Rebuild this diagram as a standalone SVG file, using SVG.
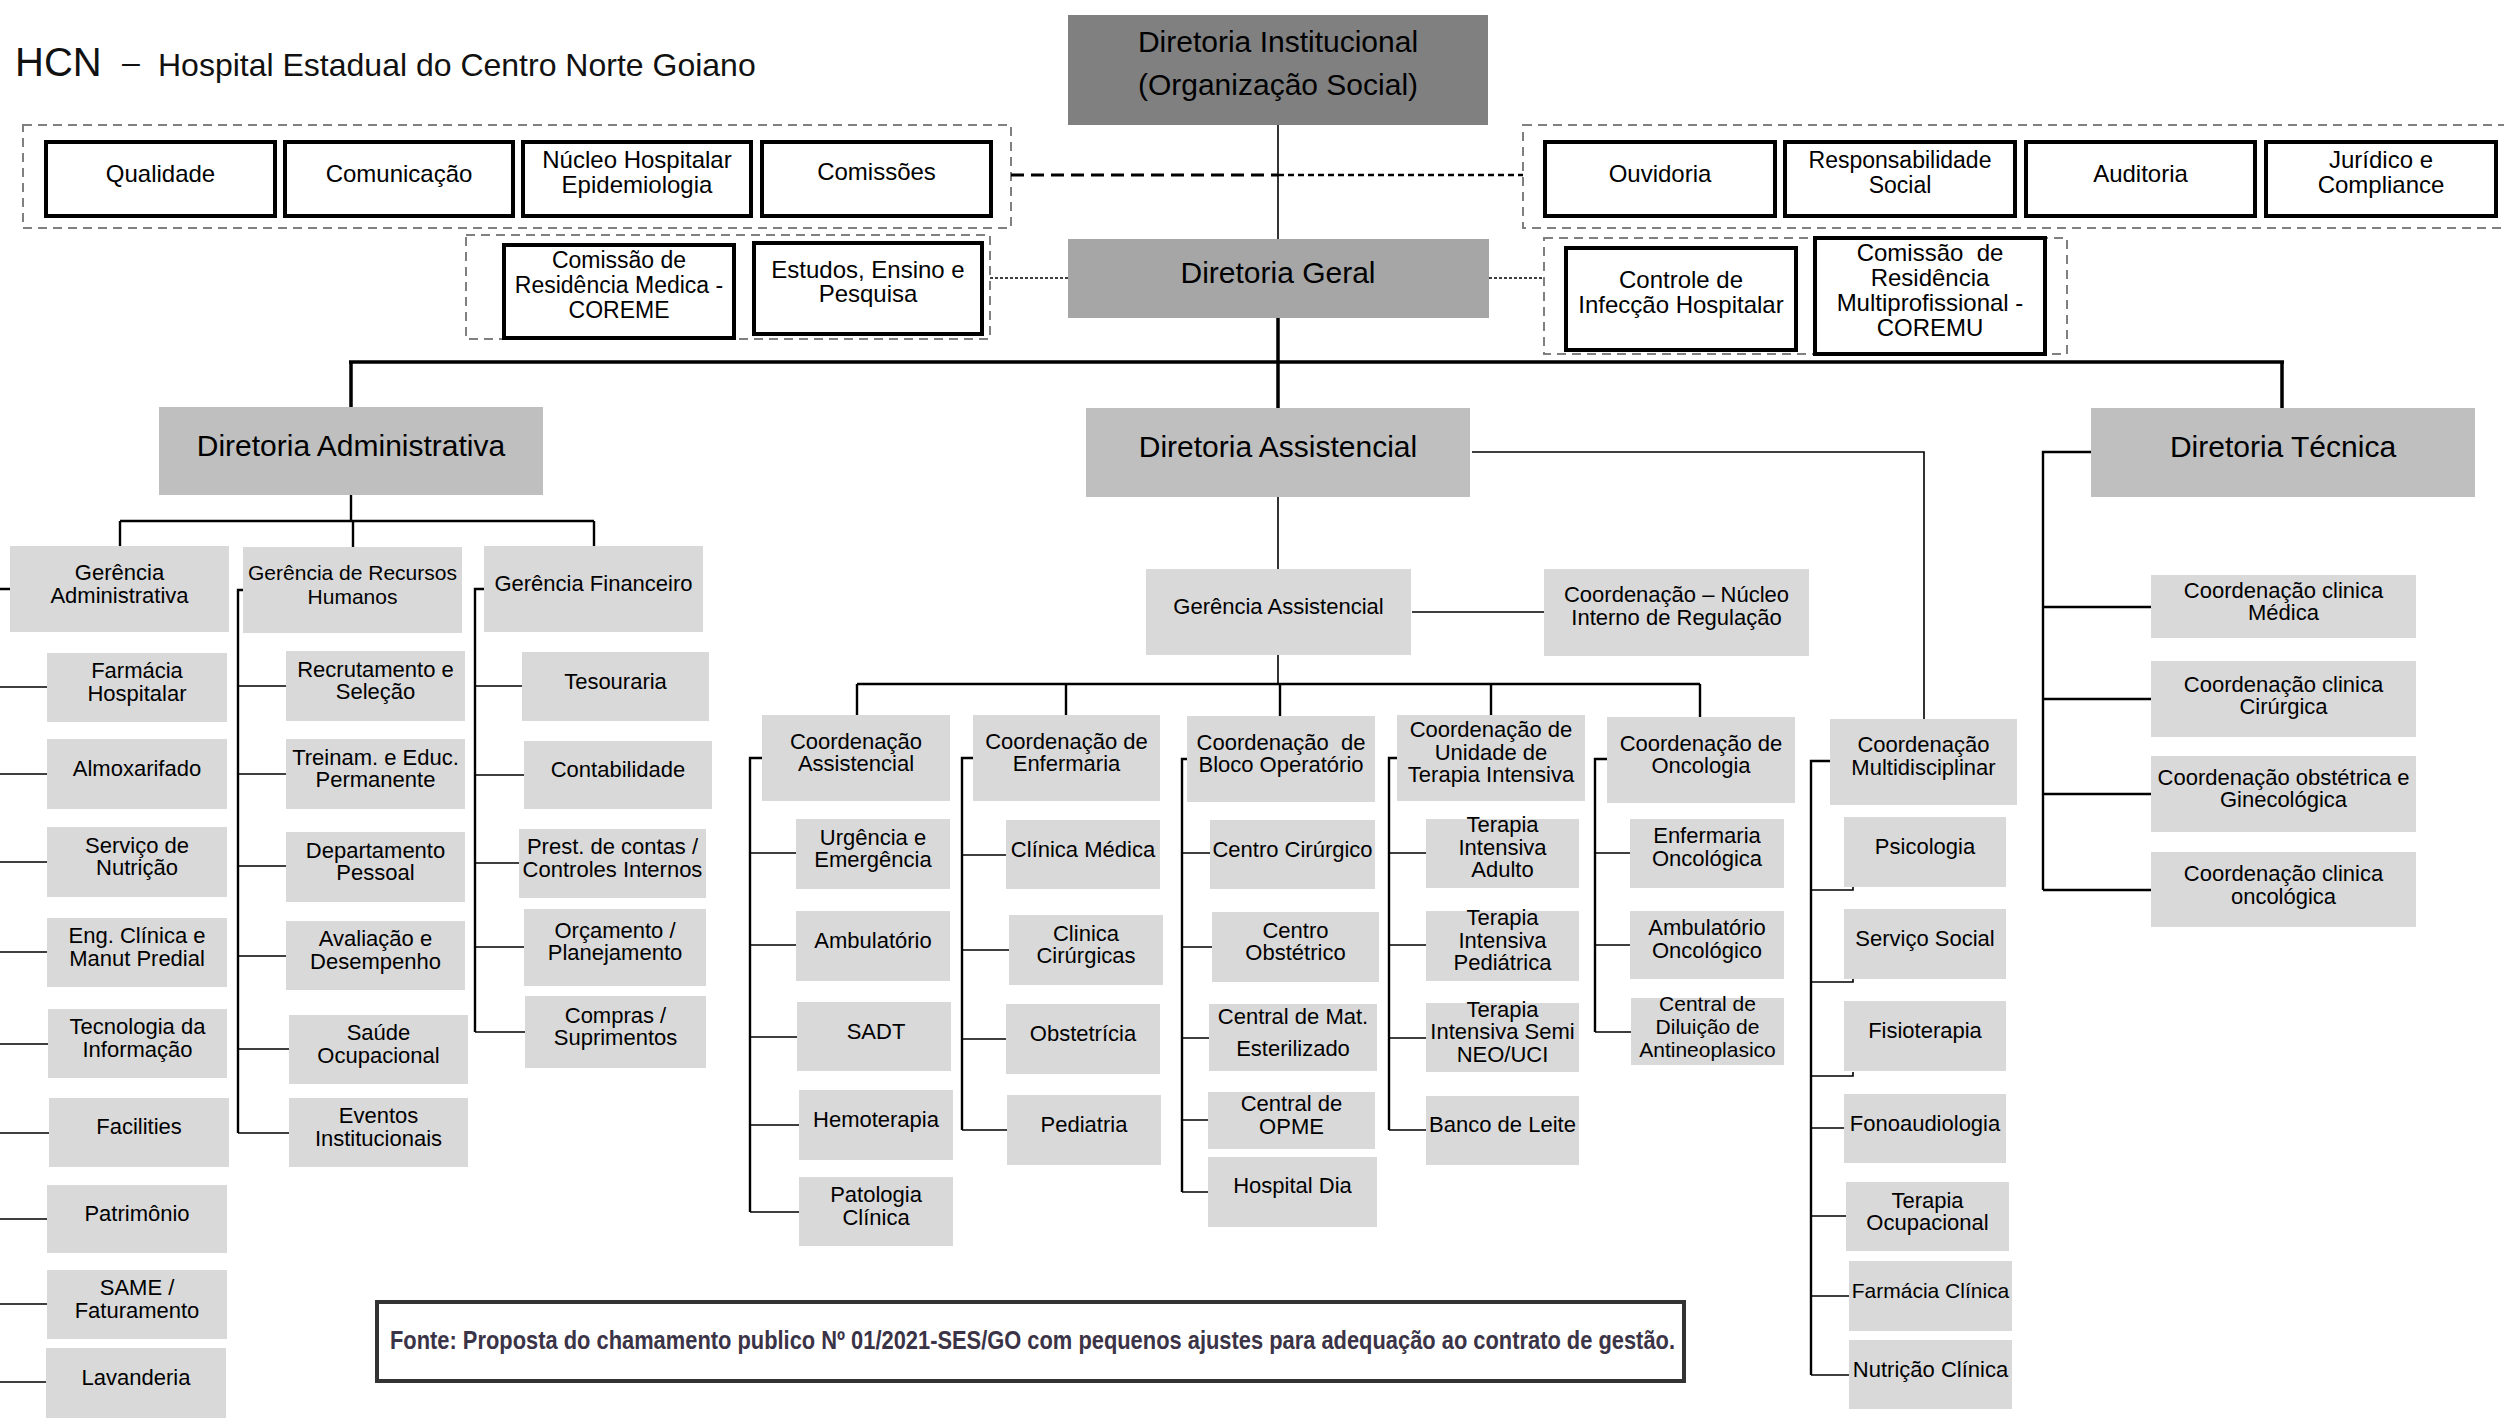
<svg xmlns="http://www.w3.org/2000/svg" width="2504" height="1418" viewBox="0 0 2504 1418">
<style>
text{font-family:"Liberation Sans",Arial,sans-serif;fill:#000;text-anchor:middle;font-size:22px}
.t24{font-size:24px}
.t23{font-size:23px}
.t21{font-size:21px}
.t30{font-size:30px}
.wb{fill:#fff;stroke:#000;stroke-width:4}
.lb{fill:#d9d9d9}
.grp{fill:none;stroke:#808080;stroke-width:2;stroke-dasharray:9 6}
.ct{stroke-width:1.6}
.cm{stroke-width:2.4}
.ck{stroke-width:3.5}
</style>
<g id="title">
<text x="15" y="76" style="text-anchor:start;font-size:40px;fill:#111">HCN</text>
<text x="122" y="73" style="text-anchor:start;font-size:32px;fill:#111">–</text>
<text x="158" y="76" style="text-anchor:start;font-size:32px;fill:#111">Hospital Estadual do Centro Norte Goiano</text>
</g>
<g id="groups">
<rect class="grp" x="23" y="125" width="988" height="103"/>
<rect class="grp" x="1523" y="125" width="1000" height="103"/>
<rect class="grp" x="466" y="235" width="524" height="104"/>
<rect class="grp" x="1544" y="238" width="523" height="116"/>
</g>
<g id="connectors" fill="none" stroke="#000">
<path class="ct" d="M1278 125V239"/>
<path d="M1011 175H1278" stroke-width="3" stroke-dasharray="13 7"/>
<path d="M1278 175H1523" stroke-width="2.5" stroke-dasharray="6 4"/>
<path d="M990 278H1068M1489 278H1544" stroke-width="1.5" stroke-dasharray="3 2"/>
<path class="ck" d="M1278 318V408M349 362H2284M351 362V407M2282 362V408"/>
<path class="cm" d="M351 495V521M120 521H594M120 521V546M353 521V547M594 521V546"/>
<path class="cm" d="M10 589H-2V1382"/>
<path class="ct" d="M-2 687H47M-2 774H47M-2 862H47M-2 952H47M-2 1044H48M-2 1133H49M-2 1219H47M-2 1304H47M-2 1382H46"/>
<path class="cm" d="M243 590H238V1133"/>
<path class="ct" d="M238 686H286M238 774H286M238 866H286M238 956H286M238 1049H289M238 1133H289"/>
<path class="cm" d="M484 589H475V1032"/>
<path class="ct" d="M475 686H522M475 775H524M475 863H519M475 947H524M475 1032H525"/>
<path class="ct" d="M1278 497V569M1412 612H1544M1278 655V684M1472 452H1924V719"/>
<path class="cm" d="M857 684H1700M857 684V715M1066 684V715M1280 684V716M1491 684V715M1700 684V717"/>
<path class="cm" d="M762 758H750V1212M973 758H962V1130M1187 759H1182V1192M1397 758H1389V1130M1607 759H1595V1032M1830 761H1811V1375"/>
<path class="ct" d="M750 853H796M750 945H796M750 1037H797M750 1125H799M750 1212H799"/>
<path class="ct" d="M962 855H1006M962 950H1009M962 1039H1006M962 1130H1007"/>
<path class="ct" d="M1182 853H1210M1182 947H1212M1182 1038H1209M1182 1120H1208M1182 1192H1208"/>
<path class="ct" d="M1389 853H1426M1389 945H1426M1389 1038H1426M1389 1130H1426"/>
<path class="ct" d="M1595 853H1630M1595 945H1630M1595 1032H1631"/>
<path class="ct" d="M1811 890H1853V886M1811 982H1853V978M1811 1076H1853V1072M1811 1128H1844M1811 1216H1846M1811 1296H1849M1811 1375H1849"/>
<path class="cm" d="M2091 452H2043V890M2043 607H2151M2043 699H2151M2043 794H2151M2043 890H2151"/>
</g>
<g id="n-dir-inst"><rect x="1068" y="15" width="420" height="110" fill="#808080"/><text class="t30" x="1278" y="52">Diretoria Institucional</text><text class="t30" x="1278" y="95">(Organização Social)</text></g>
<g id="n-dir-geral"><rect x="1068" y="239" width="421" height="79" fill="#a6a6a6"/><text class="t30" x="1278" y="283">Diretoria Geral</text></g>
<g id="n-qualidade"><rect class="wb" x="46" y="142" width="229" height="74"/><text class="t24" x="160.5" y="182">Qualidade</text></g>
<g id="n-comunicacao"><rect class="wb" x="285" y="142" width="228" height="74"/><text class="t24" x="399" y="182">Comunicação</text></g>
<g id="n-nucleo"><rect class="wb" x="523" y="142" width="228" height="74"/><text class="t24" x="637"><tspan x="637" y="168">Núcleo Hospitalar</tspan><tspan x="637" y="193">Epidemiologia</tspan></text></g>
<g id="n-comissoes"><rect class="wb" x="762" y="142" width="229" height="74"/><text class="t24" x="876.5" y="180">Comissões</text></g>
<g id="n-ouvidoria"><rect class="wb" x="1545" y="142" width="230" height="74"/><text class="t24" x="1660" y="182">Ouvidoria</text></g>
<g id="n-resp-social"><rect class="wb" x="1785" y="142" width="230" height="74"/><text class="t23" x="1900"><tspan x="1900" y="168">Responsabilidade</tspan><tspan x="1900" y="193">Social</tspan></text></g>
<g id="n-auditoria"><rect class="wb" x="2026" y="142" width="229" height="74"/><text class="t24" x="2140.5" y="182">Auditoria</text></g>
<g id="n-juridico"><rect class="wb" x="2266" y="142" width="230" height="74"/><text class="t24" x="2381"><tspan x="2381" y="168">Jurídico e</tspan><tspan x="2381" y="193">Compliance</tspan></text></g>
<g id="n-coreme"><rect class="wb" x="504" y="245" width="230" height="93"/><text class="t23" x="619"><tspan x="619" y="268">Comissão de</tspan><tspan x="619" y="293">Residência Medica -</tspan><tspan x="619" y="318">COREME</tspan></text></g>
<g id="n-estudos"><rect class="wb" x="754" y="243" width="228" height="91"/><text class="t24" x="868"><tspan x="868" y="278">Estudos, Ensino e</tspan><tspan x="868" y="302">Pesquisa</tspan></text></g>
<g id="n-controle"><rect class="wb" x="1566" y="248" width="230" height="102"/><text class="t24" x="1681"><tspan x="1681" y="288">Controle de</tspan><tspan x="1681" y="313">Infecção Hospitalar</tspan></text></g>
<g id="n-coremu"><rect class="wb" x="1815" y="238" width="230" height="116"/><text class="t24" x="1930" xml:space="preserve"><tspan x="1930" y="261">Comissão  de</tspan><tspan x="1930" y="286">Residência</tspan><tspan x="1930" y="311">Multiprofissional -</tspan><tspan x="1930" y="336">COREMU</tspan></text></g>
<g id="n-dir-adm"><rect x="159" y="407" width="384" height="88" fill="#bfbfbf"/><text class="t30" x="351" y="456">Diretoria Administrativa</text></g>
<g id="n-dir-assist"><rect x="1086" y="408" width="384" height="89" fill="#bfbfbf"/><text class="t30" x="1278" y="457">Diretoria Assistencial</text></g>
<g id="n-dir-tec"><rect x="2091" y="408" width="384" height="89" fill="#bfbfbf"/><text class="t30" x="2283" y="457">Diretoria Técnica</text></g>
<g id="n-ger-adm"><rect class="lb" x="10" y="546" width="219" height="86"/><text x="119.5"><tspan x="119.5" y="580">Gerência</tspan><tspan x="119.5" y="603">Administrativa</tspan></text></g>
<g id="n-ger-rh"><rect class="lb" x="243" y="547" width="219" height="86"/><text class="t21" x="352.5"><tspan x="352.5" y="580">Gerência de Recursos</tspan><tspan x="352.5" y="604">Humanos</tspan></text></g>
<g id="n-ger-fin"><rect class="lb" x="484" y="546" width="219" height="86"/><text x="593.5" y="591">Gerência Financeiro</text></g>
<g id="n-farmacia-hosp"><rect class="lb" x="47" y="653" width="180" height="69"/><text x="137"><tspan x="137" y="678">Farmácia</tspan><tspan x="137" y="701">Hospitalar</tspan></text></g>
<g id="n-almoxarifado"><rect class="lb" x="47" y="739" width="180" height="70"/><text x="137" y="776">Almoxarifado</text></g>
<g id="n-servico-nutricao"><rect class="lb" x="47" y="827" width="180" height="70"/><text x="137"><tspan x="137" y="853">Serviço de</tspan><tspan x="137" y="875">Nutrição</tspan></text></g>
<g id="n-eng-clinica"><rect class="lb" x="47" y="918" width="180" height="69"/><text x="137"><tspan x="137" y="943">Eng. Clínica e</tspan><tspan x="137" y="966">Manut Predial</tspan></text></g>
<g id="n-tecnologia"><rect class="lb" x="48" y="1009" width="179" height="69"/><text x="137.5"><tspan x="137.5" y="1034">Tecnologia da</tspan><tspan x="137.5" y="1057">Informação</tspan></text></g>
<g id="n-facilities"><rect class="lb" x="49" y="1098" width="180" height="69"/><text x="139" y="1134">Facilities</text></g>
<g id="n-patrimonio"><rect class="lb" x="47" y="1185" width="180" height="68"/><text x="137" y="1221">Patrimônio</text></g>
<g id="n-same"><rect class="lb" x="47" y="1270" width="180" height="69"/><text x="137"><tspan x="137" y="1295">SAME /</tspan><tspan x="137" y="1318">Faturamento</tspan></text></g>
<g id="n-lavanderia"><rect class="lb" x="46" y="1348" width="180" height="70"/><text x="136" y="1385">Lavanderia</text></g>
<g id="n-recrutamento"><rect class="lb" x="286" y="651" width="179" height="70"/><text x="375.5"><tspan x="375.5" y="677">Recrutamento e</tspan><tspan x="375.5" y="699">Seleção</tspan></text></g>
<g id="n-treinam"><rect class="lb" x="286" y="739" width="179" height="70"/><text x="375.5"><tspan x="375.5" y="765">Treinam. e Educ.</tspan><tspan x="375.5" y="787">Permanente</tspan></text></g>
<g id="n-dept-pessoal"><rect class="lb" x="286" y="832" width="179" height="70"/><text x="375.5"><tspan x="375.5" y="858">Departamento</tspan><tspan x="375.5" y="880">Pessoal</tspan></text></g>
<g id="n-avaliacao"><rect class="lb" x="286" y="921" width="179" height="69"/><text x="375.5"><tspan x="375.5" y="946">Avaliação e</tspan><tspan x="375.5" y="969">Desempenho</tspan></text></g>
<g id="n-saude"><rect class="lb" x="289" y="1015" width="179" height="69"/><text x="378.5"><tspan x="378.5" y="1040">Saúde</tspan><tspan x="378.5" y="1063">Ocupacional</tspan></text></g>
<g id="n-eventos"><rect class="lb" x="289" y="1098" width="179" height="69"/><text x="378.5"><tspan x="378.5" y="1123">Eventos</tspan><tspan x="378.5" y="1146">Institucionais</tspan></text></g>
<g id="n-tesouraria"><rect class="lb" x="522" y="652" width="187" height="69"/><text x="615.5" y="689">Tesouraria</text></g>
<g id="n-contabilidade"><rect class="lb" x="524" y="741" width="188" height="68"/><text x="618" y="777">Contabilidade</text></g>
<g id="n-prest-contas"><rect class="lb" x="519" y="829" width="187" height="69"/><text x="612.5"><tspan x="612.5" y="854">Prest. de contas /</tspan><tspan x="612.5" y="877">Controles Internos</tspan></text></g>
<g id="n-orcamento"><rect class="lb" x="524" y="909" width="182" height="77"/><text x="615"><tspan x="615" y="938">Orçamento /</tspan><tspan x="615" y="960">Planejamento</tspan></text></g>
<g id="n-compras"><rect class="lb" x="525" y="996" width="181" height="72"/><text x="615.5"><tspan x="615.5" y="1023">Compras /</tspan><tspan x="615.5" y="1045">Suprimentos</tspan></text></g>
<g id="n-ger-assist"><rect class="lb" x="1146" y="569" width="265" height="86"/><text x="1278.5" y="614">Gerência Assistencial</text></g>
<g id="n-coord-nucleo"><rect class="lb" x="1544" y="569" width="265" height="87"/><text x="1676.5"><tspan x="1676.5" y="602">Coordenação – Núcleo</tspan><tspan x="1676.5" y="625">Interno de Regulação</tspan></text></g>
<g id="n-coord-assist"><rect class="lb" x="762" y="715" width="188" height="86"/><text x="856"><tspan x="856" y="749">Coordenação</tspan><tspan x="856" y="771">Assistencial</tspan></text></g>
<g id="n-coord-enf"><rect class="lb" x="973" y="715" width="187" height="86"/><text x="1066.5"><tspan x="1066.5" y="749">Coordenação de</tspan><tspan x="1066.5" y="771">Enfermaria</tspan></text></g>
<g id="n-coord-bloco"><rect class="lb" x="1187" y="716" width="188" height="86"/><text x="1281" xml:space="preserve"><tspan x="1281" y="750">Coordenação  de</tspan><tspan x="1281" y="772">Bloco Operatório</tspan></text></g>
<g id="n-coord-uti"><rect class="lb" x="1397" y="715" width="188" height="86"/><text x="1491"><tspan x="1491" y="737">Coordenação de</tspan><tspan x="1491" y="760">Unidade de</tspan><tspan x="1491" y="782">Terapia Intensiva</tspan></text></g>
<g id="n-coord-onco"><rect class="lb" x="1607" y="717" width="188" height="86"/><text x="1701"><tspan x="1701" y="751">Coordenação de</tspan><tspan x="1701" y="773">Oncologia</tspan></text></g>
<g id="n-coord-multi"><rect class="lb" x="1830" y="719" width="187" height="86"/><text x="1923.5"><tspan x="1923.5" y="752">Coordenação</tspan><tspan x="1923.5" y="775">Multidisciplinar</tspan></text></g>
<g id="n-urgencia"><rect class="lb" x="796" y="819" width="154" height="70"/><text x="873"><tspan x="873" y="845">Urgência e</tspan><tspan x="873" y="867">Emergência</tspan></text></g>
<g id="n-ambulatorio"><rect class="lb" x="796" y="911" width="154" height="70"/><text x="873" y="948">Ambulatório</text></g>
<g id="n-sadt"><rect class="lb" x="797" y="1002" width="154" height="69"/><text x="876" y="1039">SADT</text></g>
<g id="n-hemoterapia"><rect class="lb" x="799" y="1090" width="154" height="70"/><text x="876" y="1127">Hemoterapia</text></g>
<g id="n-patologia"><rect class="lb" x="799" y="1177" width="154" height="69"/><text x="876"><tspan x="876" y="1202">Patologia</tspan><tspan x="876" y="1225">Clínica</tspan></text></g>
<g id="n-clinica-medica"><rect class="lb" x="1006" y="820" width="154" height="69"/><text x="1083" y="857">Clínica Médica</text></g>
<g id="n-clinica-cirurgicas"><rect class="lb" x="1009" y="915" width="154" height="70"/><text x="1086"><tspan x="1086" y="941">Clinica</tspan><tspan x="1086" y="963">Cirúrgicas</tspan></text></g>
<g id="n-obstetricia"><rect class="lb" x="1006" y="1004" width="154" height="70"/><text x="1083" y="1041">Obstetrícia</text></g>
<g id="n-pediatria"><rect class="lb" x="1007" y="1095" width="154" height="70"/><text x="1084" y="1132">Pediatria</text></g>
<g id="n-centro-cirurgico"><rect class="lb" x="1210" y="820" width="165" height="69"/><text x="1292.5" y="857">Centro Cirúrgico</text></g>
<g id="n-centro-obstetrico"><rect class="lb" x="1212" y="912" width="167" height="70"/><text x="1295.5"><tspan x="1295.5" y="938">Centro</tspan><tspan x="1295.5" y="960">Obstétrico</tspan></text></g>
<g id="n-central-mat"><rect class="lb" x="1209" y="1004" width="168" height="67"/><text x="1293"><tspan x="1293" y="1024">Central de Mat.</tspan><tspan x="1293" y="1056">Esterilizado</tspan></text></g>
<g id="n-central-opme"><rect class="lb" x="1208" y="1092" width="167" height="57"/><text x="1291.5"><tspan x="1291.5" y="1111">Central de</tspan><tspan x="1291.5" y="1134">OPME</tspan></text></g>
<g id="n-hospital-dia"><rect class="lb" x="1208" y="1157" width="169" height="70"/><text x="1292.5" y="1193">Hospital Dia</text></g>
<g id="n-ti-adulto"><rect class="lb" x="1426" y="819" width="153" height="69"/><text x="1502.5"><tspan x="1502.5" y="832">Terapia</tspan><tspan x="1502.5" y="855">Intensiva</tspan><tspan x="1502.5" y="877">Adulto</tspan></text></g>
<g id="n-ti-pediatrica"><rect class="lb" x="1426" y="911" width="153" height="70"/><text x="1502.5"><tspan x="1502.5" y="925">Terapia</tspan><tspan x="1502.5" y="948">Intensiva</tspan><tspan x="1502.5" y="970">Pediátrica</tspan></text></g>
<g id="n-ti-semi"><rect class="lb" x="1426" y="1003" width="153" height="69"/><text x="1502.5"><tspan x="1502.5" y="1017">Terapia</tspan><tspan x="1502.5" y="1039">Intensiva Semi</tspan><tspan x="1502.5" y="1062">NEO/UCI</tspan></text></g>
<g id="n-banco-leite"><rect class="lb" x="1426" y="1096" width="153" height="69"/><text x="1502.5" y="1132">Banco de Leite</text></g>
<g id="n-enf-onco"><rect class="lb" x="1630" y="819" width="154" height="69"/><text x="1707"><tspan x="1707" y="843">Enfermaria</tspan><tspan x="1707" y="866">Oncológica</tspan></text></g>
<g id="n-amb-onco"><rect class="lb" x="1630" y="911" width="154" height="68"/><text x="1707"><tspan x="1707" y="935">Ambulatório</tspan><tspan x="1707" y="958">Oncológico</tspan></text></g>
<g id="n-central-dil"><rect class="lb" x="1631" y="998" width="153" height="67"/><text class="t21" x="1707.5"><tspan x="1707.5" y="1011">Central de</tspan><tspan x="1707.5" y="1034">Diluição de</tspan><tspan x="1707.5" y="1057">Antineoplasico</tspan></text></g>
<g id="n-psicologia"><rect class="lb" x="1844" y="817" width="162" height="70"/><text x="1925" y="854">Psicologia</text></g>
<g id="n-servico-social"><rect class="lb" x="1844" y="909" width="162" height="70"/><text x="1925" y="946">Serviço Social</text></g>
<g id="n-fisioterapia"><rect class="lb" x="1844" y="1001" width="162" height="70"/><text x="1925" y="1038">Fisioterapia</text></g>
<g id="n-fonoaudiologia"><rect class="lb" x="1844" y="1094" width="162" height="69"/><text x="1925" y="1131">Fonoaudiologia</text></g>
<g id="n-terapia-ocup"><rect class="lb" x="1846" y="1182" width="163" height="69"/><text x="1927.5"><tspan x="1927.5" y="1208">Terapia</tspan><tspan x="1927.5" y="1230">Ocupacional</tspan></text></g>
<g id="n-farmacia-clinica"><rect class="lb" x="1849" y="1261" width="163" height="70"/><text class="t21" x="1930.5" y="1298">Farmácia Clínica</text></g>
<g id="n-nutricao-clinica"><rect class="lb" x="1849" y="1340" width="163" height="69"/><text x="1930.5" y="1377">Nutrição Clínica</text></g>
<g id="n-ccm"><rect class="lb" x="2151" y="575" width="265" height="63"/><text x="2283.5"><tspan x="2283.5" y="598">Coordenação clinica</tspan><tspan x="2283.5" y="620">Médica</tspan></text></g>
<g id="n-ccc"><rect class="lb" x="2151" y="661" width="265" height="76"/><text x="2283.5"><tspan x="2283.5" y="692">Coordenação clinica</tspan><tspan x="2283.5" y="714">Cirúrgica</tspan></text></g>
<g id="n-cog"><rect class="lb" x="2151" y="756" width="265" height="76"/><text x="2283.5"><tspan x="2283.5" y="785">Coordenação obstétrica e</tspan><tspan x="2283.5" y="807">Ginecológica</tspan></text></g>
<g id="n-cco"><rect class="lb" x="2151" y="852" width="265" height="75"/><text x="2283.5"><tspan x="2283.5" y="881">Coordenação clinica</tspan><tspan x="2283.5" y="904">oncológica</tspan></text></g>
<g id="fonte"><rect x="377" y="1302" width="1307" height="79" fill="#fff" stroke="#333" stroke-width="4"/><text x="390" y="1349" textLength="1285" lengthAdjust="spacingAndGlyphs" style="text-anchor:start;font-size:26px;font-weight:bold;fill:#3b3346">Fonte: Proposta do chamamento publico Nº 01/2021-SES/GO com pequenos ajustes para adequação ao contrato de gestão.</text></g>
</svg>
